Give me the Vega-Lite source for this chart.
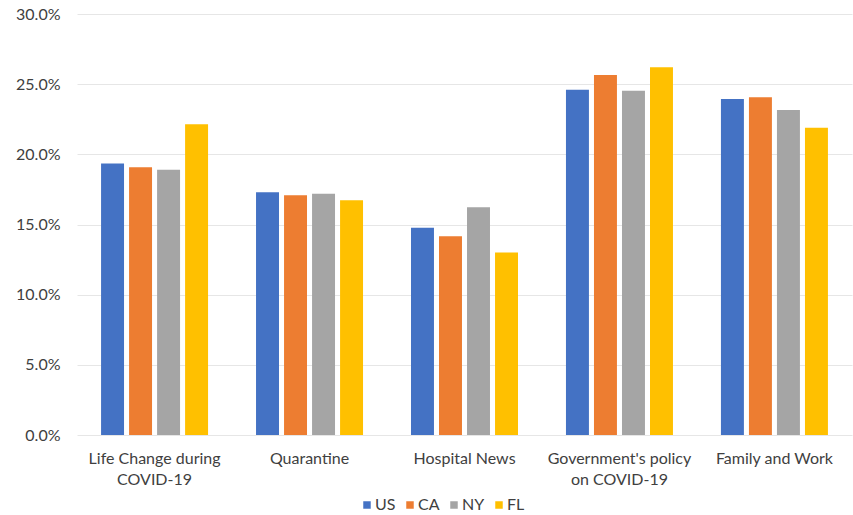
{
  "$schema": "https://vega.github.io/schema/vega-lite/v6.json",
  "width": 775,
  "height": 421,
  "autosize": {"type": "none"},
  "padding": {"left": 77, "top": 14, "right": 1, "bottom": 80},
  "background": "white",
  "data": {
    "values": [
      {"topic": "Life Change during COVID-19", "state": "US", "share": 0.1934},
      {"topic": "Life Change during COVID-19", "state": "CA", "share": 0.1908},
      {"topic": "Life Change during COVID-19", "state": "NY", "share": 0.189},
      {"topic": "Life Change during COVID-19", "state": "FL", "share": 0.2215},
      {"topic": "Quarantine", "state": "US", "share": 0.1729},
      {"topic": "Quarantine", "state": "CA", "share": 0.1708},
      {"topic": "Quarantine", "state": "NY", "share": 0.172},
      {"topic": "Quarantine", "state": "FL", "share": 0.1672},
      {"topic": "Hospital News", "state": "US", "share": 0.1476},
      {"topic": "Hospital News", "state": "CA", "share": 0.1417},
      {"topic": "Hospital News", "state": "NY", "share": 0.1623},
      {"topic": "Hospital News", "state": "FL", "share": 0.13},
      {"topic": "Government's policy on COVID-19", "state": "US", "share": 0.246},
      {"topic": "Government's policy on COVID-19", "state": "CA", "share": 0.2566},
      {"topic": "Government's policy on COVID-19", "state": "NY", "share": 0.2453},
      {"topic": "Government's policy on COVID-19", "state": "FL", "share": 0.262},
      {"topic": "Family and Work", "state": "US", "share": 0.2394},
      {"topic": "Family and Work", "state": "CA", "share": 0.2406},
      {"topic": "Family and Work", "state": "NY", "share": 0.2316},
      {"topic": "Family and Work", "state": "FL", "share": 0.219}
    ]
  },
  "mark": {"type": "bar"},
  "encoding": {
    "x": {
      "field": "topic",
      "type": "nominal",
      "sort": null,
      "scale": {"paddingInner": 0.277, "paddingOuter": 0.139},
      "axis": {
        "title": null,
        "labelAngle": 0,
        "domain": false,
        "ticks": false,
        "labelPadding": 15,
        "labelFont": "Lato",
        "labelFontSize": 16,
        "labelColor": "#404040",
        "labelLineHeight": 21,
        "labelExpr": "datum.label == 'Life Change during COVID-19' ? ['Life Change during', 'COVID-19'] : datum.label == \"Government's policy on COVID-19\" ? [\"Government's policy\", 'on COVID-19'] : datum.label"
      }
    },
    "xOffset": {
      "field": "state",
      "type": "nominal",
      "sort": ["US", "CA", "NY", "FL"],
      "scale": {"paddingInner": 0.18, "paddingOuter": 0.09}
    },
    "y": {
      "field": "share",
      "type": "quantitative",
      "scale": {"domain": [0, 0.3]},
      "axis": {
        "title": null,
        "format": ".1%",
        "values": [0, 0.05, 0.1, 0.15, 0.2, 0.25, 0.3],
        "domain": false,
        "ticks": false,
        "labelPadding": 17,
        "labelFont": "Lato",
        "labelFontSize": 16,
        "labelColor": "#404040",
        "gridColor": "#e6e6e6",
        "gridWidth": 1
      }
    },
    "color": {
      "field": "state",
      "type": "nominal",
      "sort": ["US", "CA", "NY", "FL"],
      "scale": {"domain": ["US", "CA", "NY", "FL"], "range": ["#4472C4", "#ED7D31", "#A5A5A5", "#FFC000"]},
      "legend": {
        "title": null,
        "orient": "none",
        "direction": "horizontal",
        "legendX": 282,
        "legendY": 483,
        "symbolType": "square",
        "symbolSize": 56,
        "symbolStrokeWidth": 0,
        "labelFont": "Lato",
        "labelFontSize": 16,
        "labelColor": "#404040",
        "columnPadding": 6,
        "labelOffset": 0
      }
    }
  },
  "config": {
    "view": {"stroke": null}
  }
}
